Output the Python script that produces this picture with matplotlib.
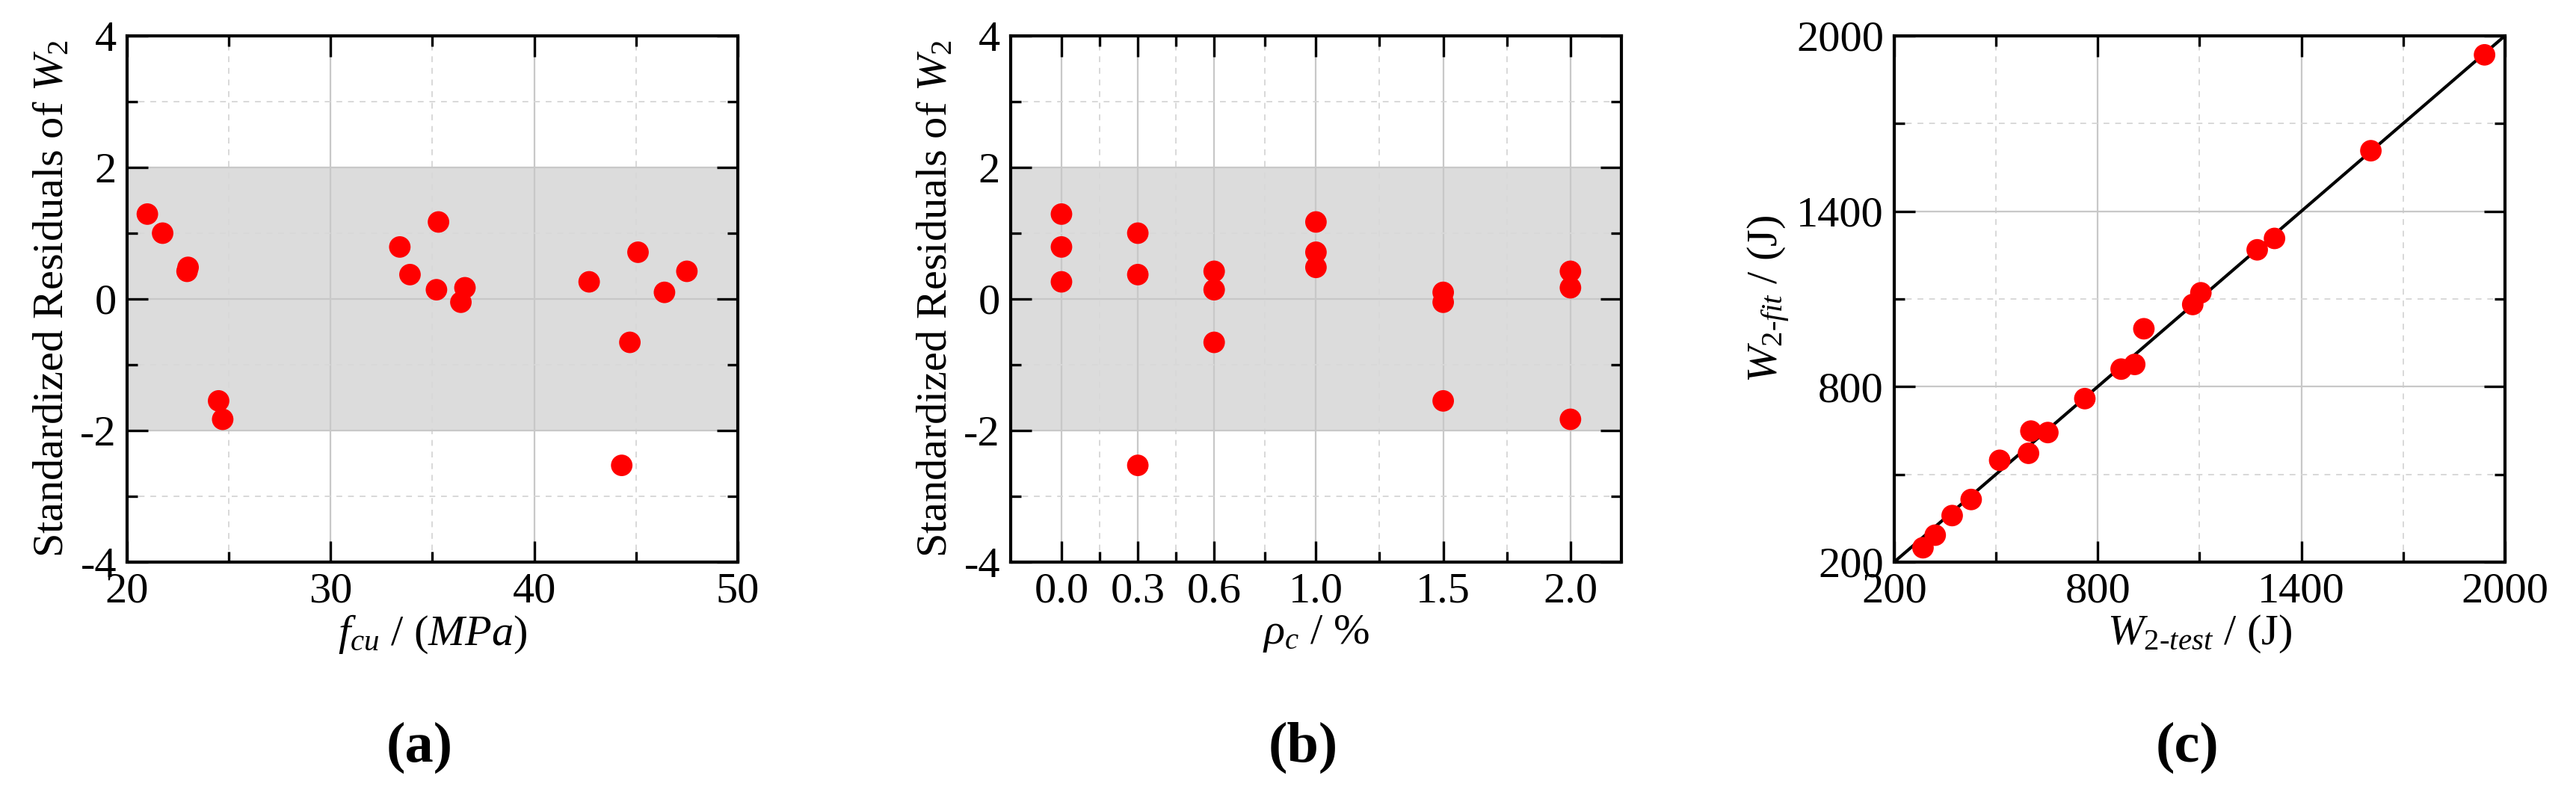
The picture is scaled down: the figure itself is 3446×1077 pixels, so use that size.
import matplotlib
matplotlib.use('Agg')
import matplotlib.pyplot as plt
from matplotlib.ticker import FixedLocator

plt.rcParams['font.family'] = ['Liberation Serif', 'DejaVu Serif']
plt.rcParams['mathtext.fontset'] = 'custom'
plt.rcParams['mathtext.rm'] = 'Liberation Serif'
plt.rcParams['mathtext.it'] = 'Liberation Serif:italic'
plt.rcParams['mathtext.bf'] = 'Liberation Serif:bold'
plt.rcParams['axes.unicode_minus'] = False

# residuals of W2 against concrete strength and fibre ratio
fcu = [21.0, 21.75, 23.0, 22.95, 24.5, 24.7, 33.4, 33.9, 35.3, 35.2, 36.4, 36.6,
       42.7, 45.1, 44.3, 44.7, 46.4, 47.5]
rho_c = [0.0, 0.3, 1.0, 0.6, 1.5, 2.0, 0.0, 0.3, 1.0, 0.6, 1.5, 2.0,
         0.0, 1.0, 0.3, 0.6, 1.5, 2.0]
resid = [1.29, 1.0, 0.48, 0.42, -1.55, -1.83, 0.79, 0.37, 1.17, 0.14, -0.05, 0.17,
         0.26, 0.71, -2.53, -0.66, 0.10, 0.42]

# fitted vs tested W2 (J)
w_test = [285, 321, 371, 427, 511, 596, 603, 653, 762, 869, 909, 936,
          1080, 1104, 1270, 1321, 1605, 1940]
w_fit = [249, 292, 359, 414, 548, 572, 648, 643, 759, 860, 876, 998,
         1081, 1121, 1268, 1307, 1607, 1935]

FS = 42
LFS = 42
RED = '#ff0000'

fig = plt.figure(figsize=(34.46, 10.77), dpi=100)


def style(ax, xmaj, xmin, ymaj, ymin):
    ax.xaxis.set_major_locator(FixedLocator(xmaj))
    ax.xaxis.set_minor_locator(FixedLocator(xmin))
    ax.yaxis.set_major_locator(FixedLocator(ymaj))
    ax.yaxis.set_minor_locator(FixedLocator(ymin))
    ax.set_axisbelow(True)
    ax.grid(which='major', color='#c8c8c8', lw=1.6, ls='-')
    ax.grid(which='minor', color='#d8d8d8', lw=1.4, ls=(0, (4, 4)))
    ax.tick_params(which='both', direction='in', top=True, right=True,
                   labelsize=FS, colors='black', width=2.4)
    ax.tick_params(which='major', length=20, pad=10)
    ax.tick_params(which='minor', length=10)
    for sp in ax.spines.values():
        sp.set_linewidth(3.0)
        sp.set_zorder(5)


# (a)
ax1 = fig.add_axes([0.0493, 0.3018, 0.2371, 0.6537])
ax1.axhspan(-2, 2, color='#dcdcdc', zorder=0, lw=0)
ax1.scatter(fcu, resid, s=430, c=RED, edgecolors='none', zorder=3)
ax1.set_xlim(20, 50)
ax1.set_ylim(-4, 4)
style(ax1, [20, 30, 40, 50], [25, 35, 45], [-4, -2, 0, 2, 4], [-3, -1, 1, 3])
ax1.set_xlabel(r'$f_{cu}$ / $(MPa)$', fontsize=LFS, labelpad=2)
ax1.set_ylabel(r'Standardized Residuals of $W_{2}$', fontsize=LFS, labelpad=8)

# (b)
ax2 = fig.add_axes([0.3923, 0.3018, 0.2371, 0.6537])
ax2.axhspan(-2, 2, color='#dcdcdc', zorder=0, lw=0)
ax2.scatter(rho_c, resid, s=430, c=RED, edgecolors='none', zorder=3)
ax2.set_xlim(-0.2, 2.2)
ax2.set_ylim(-4, 4)
style(ax2, [0.0, 0.3, 0.6, 1.0, 1.5, 2.0], [0.15, 0.45, 0.8, 1.25, 1.75],
      [-4, -2, 0, 2, 4], [-3, -1, 1, 3])
ax2.set_xticklabels(['0.0', '0.3', '0.6', '1.0', '1.5', '2.0'])
ax2.set_xlabel(r'$\rho_c$ / %', fontsize=LFS, labelpad=2)
ax2.set_ylabel(r'Standardized Residuals of $W_{2}$', fontsize=LFS, labelpad=8)

# (c)
ax3 = fig.add_axes([0.7353, 0.3018, 0.2371, 0.6537])
ax3.plot([200, 2000], [200, 2000], color='black', lw=3, zorder=2)
ax3.scatter(w_test, w_fit, s=430, c=RED, edgecolors='none', zorder=3)
ax3.set_xlim(200, 2000)
ax3.set_ylim(200, 2000)
style(ax3, [200, 800, 1400, 2000], [500, 1100, 1700],
      [200, 800, 1400, 2000], [500, 1100, 1700])
ax3.set_xlabel(r'$W_{\mathit{2\text{-}test}}$ / (J)', fontsize=LFS, labelpad=2)
ax3.set_ylabel(r'$W_{\mathit{2\text{-}fit}}$ / (J)', fontsize=LFS, labelpad=4)

for x, lab in [(0.1628, '(a)'), (0.506, '(b)'), (0.849, '(c)')]:
    fig.text(x, 0.0715, lab, fontsize=55, fontweight='bold', ha='center', va='center')

fig.savefig('out.png', dpi=100, facecolor='white')
